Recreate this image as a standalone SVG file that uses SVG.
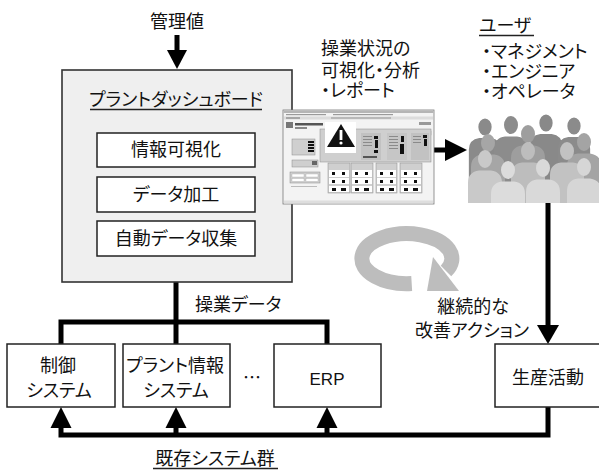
<svg xmlns="http://www.w3.org/2000/svg" width="599" height="470" viewBox="0 0 599 470">
  <style>
    text { font-family: "Noto Sans CJK JP", "Noto Sans", sans-serif; font-size: 18px; fill: #111; font-feature-settings: "palt"; }
    .mid { text-anchor: middle; }
    .latin { font-family: "Liberation Sans", Arial, sans-serif; font-size: 17px; }
    .frame { fill: #efefef; stroke: #333; stroke-width: 1.6; }
    .box { fill: #fff; stroke: #222; stroke-width: 1.5; }
    .wire { fill: none; stroke: #000; stroke-width: 5; }
    .head { fill: #000; }
    .uline { stroke: #222; stroke-width: 1.3; }
    .panel { fill: #cfcfcf; stroke: #8a8a8a; stroke-width: 0.5; }
    .cell { fill: #fff; stroke: #999; stroke-width: 0.3; }
    .blk { fill: #111; }
    .faint { fill: #9a9a9a; }
  </style>
  <defs>
    <!-- one person silhouette, head centred at 0,0 -->
    <path id="person" d="M-7,0 a7,9 0 1,1 14,0 a7,9 0 1,1 -14,0 Z M-17,120 L-17,24 Q-17,13 -6,11.5 L6,11.5 Q17,13 17,24 L17,120 Z"/>
    <clipPath id="crowdClip"><rect x="467" y="100" width="134" height="103"/></clipPath>
  </defs>

  <!-- connectors -->
  <g id="connectors">
    <!-- target values into the dashboard -->
    <line class="wire" x1="177" y1="35" x2="177" y2="52"/>
    <polygon class="head" points="167,50 187,50 177,69"/>
    <!-- operation data from existing systems -->
    <polyline class="wire" points="61,344 61,322 327,322 327,344"/>
    <line class="wire" x1="176" y1="344" x2="176" y2="275"/>
    <polygon class="head" points="166,277 187,277 176.5,257"/>
    <!-- visualisation to screen to users -->
    <line class="wire" x1="255" y1="150" x2="285" y2="150"/>
    <line class="wire" x1="432" y1="150" x2="447" y2="150"/>
    <polygon class="head" points="445,139 445,161 467,150"/>
    <!-- users to production -->
    <line class="wire" x1="548" y1="202" x2="548" y2="328"/>
    <polygon class="head" points="537,325 559,325 548,344"/>
    <!-- feedback into existing systems -->
    <polyline class="wire" points="548,407 548,435 61,435 61,426"/>
    <line class="wire" x1="176" y1="435" x2="176" y2="426"/>
    <line class="wire" x1="327" y1="435" x2="327" y2="426"/>
    <polygon class="head" points="50.5,428 71.5,428 61,407"/>
    <polygon class="head" points="165.5,428 186.5,428 176,407"/>
    <polygon class="head" points="316.5,428 337.5,428 327,407"/>
  </g>

  <text class="mid" x="177" y="28">管理値</text>
  <text x="195" y="311">操業データ</text>

  <!-- plant dashboard -->
  <g id="dashboard">
    <rect class="frame" x="62" y="70" width="230" height="212"/>
    <text class="mid" x="176" y="106" font-size="17.5">プラントダッシュボード</text>
    <line class="uline" x1="90" y1="109.5" x2="262" y2="109.5"/>
  </g>
  <g id="visualize">
    <rect class="box" x="97" y="133" width="158" height="34"/>
    <text class="mid" x="176" y="156">情報可視化</text>
  </g>
  <g id="process">
    <rect class="box" x="97" y="177" width="158" height="35"/>
    <text class="mid" x="176" y="200.5">データ加工</text>
  </g>
  <g id="collect">
    <rect class="box" x="97" y="221" width="158" height="35"/>
    <text class="mid" x="176" y="244.5">自動データ収集</text>
  </g>

  <!-- screen capture of the dashboard -->
  <g id="screen" transform="translate(283,110)">
    <rect x="0" y="0" width="151" height="94" fill="#f3f3f3" stroke="#7a7a7a" stroke-width="0.8"/>
    <rect x="0.5" y="0.5" width="150" height="2.5" fill="#b5b5b5"/>
    <rect x="3" y="4" width="40" height="1.2" class="faint"/>
    <rect x="50" y="4" width="60" height="1.2" class="faint"/>
    <rect x="1" y="6.5" width="149" height="3" fill="#dcdcdc"/>
    <rect x="3" y="7.2" width="14" height="1.6" class="faint"/>
    <rect x="48" y="7.2" width="60" height="1.6" fill="#b0b0b0"/>
    <rect x="3" y="12" width="7" height="6" fill="#777"/>
    <rect x="12" y="13" width="28" height="2.5" fill="#555"/>
    <rect x="12" y="17" width="12" height="2" fill="#888"/>
    <rect x="136" y="12" width="12" height="3" fill="#999"/>
    <rect x="116" y="21" width="32" height="4" fill="#e8e8e8" stroke="#888" stroke-width="0.4"/>
    <!-- main status panel -->
    <rect class="panel" x="37" y="19" width="111" height="33"/>
    <rect x="78" y="23" width="20" height="27" fill="#c2c2c2"/>
    <rect x="104" y="23" width="20" height="27" fill="#c6c6c6"/>
    <rect x="128" y="23" width="18" height="27" fill="#c2c2c2"/>
    <g fill="#8a8a8a">
      <rect x="80" y="26" width="9" height="1"/><rect x="80" y="29" width="9" height="1"/><rect x="80" y="32" width="9" height="1"/><rect x="80" y="35" width="9" height="1"/>
      <rect x="106" y="26" width="9" height="1"/><rect x="106" y="29" width="9" height="1"/><rect x="106" y="32" width="9" height="1"/><rect x="106" y="35" width="9" height="1"/><rect x="106" y="38" width="9" height="1"/>
      <rect x="130" y="26" width="8" height="1"/><rect x="130" y="29" width="8" height="1"/><rect x="130" y="32" width="8" height="1"/>
    </g>
    <rect class="blk" x="91" y="26" width="4" height="3"/>
    <rect class="blk" x="92" y="30" width="3" height="8"/>
    <rect class="blk" x="91" y="40" width="4" height="3"/>
    <rect class="blk" x="118" y="26" width="3" height="6"/>
    <rect class="blk" x="117" y="34" width="4" height="10"/>
    <rect class="blk" x="140" y="25" width="4" height="3"/>
    <rect class="blk" x="141" y="29" width="3" height="7"/>
    <rect x="80" y="46" width="14" height="2" fill="#555"/>
    <!-- warning sign -->
    <rect x="42" y="12" width="31" height="31" fill="#fff"/>
    <polygon points="58,14 44,37 72,37" fill="#111"/>
    <rect x="56.6" y="20" width="2.8" height="10" fill="#fff"/>
    <circle cx="58" cy="33" r="1.6" fill="#fff"/>
    <!-- left side panels -->
    <rect class="panel" x="9" y="29" width="23" height="16"/>
    <rect class="blk" x="25" y="31" width="6" height="2"/>
    <rect class="blk" x="25" y="34" width="6" height="2"/>
    <rect class="blk" x="25" y="37" width="6" height="2"/>
    <rect class="blk" x="25" y="40" width="6" height="2"/>
    <rect class="panel" x="9" y="50" width="26" height="7"/>
    <rect x="29" y="51" width="5" height="4" fill="#666"/>
    <rect class="panel" x="7" y="62" width="30" height="11"/>
    <rect class="cell" x="9" y="64" width="12" height="3"/>
    <rect class="cell" x="23" y="64" width="12" height="3"/>
    <rect class="cell" x="9" y="68.5" width="12" height="3"/>
    <rect class="cell" x="23" y="68.5" width="12" height="3"/>
    <rect x="8" y="76" width="26" height="1" fill="#bbb"/>
    <!-- equipment panels -->
    <g id="unitPanels">
      <rect class="panel" x="45" y="53" width="22" height="30"/>
      <rect class="panel" x="68" y="53" width="22" height="30"/>
      <rect class="panel" x="93" y="53" width="21" height="30"/>
      <rect class="panel" x="117" y="53" width="22" height="30"/>
    </g>
    <g fill="#fff">
      <rect x="46" y="60" width="20" height="7"/><rect x="69" y="60" width="20" height="7"/><rect x="94" y="60" width="19" height="7"/><rect x="118" y="60" width="20" height="7"/>
      <rect x="46" y="68" width="20" height="6"/><rect x="69" y="68" width="20" height="6"/><rect x="94" y="68" width="19" height="6"/><rect x="118" y="68" width="20" height="6"/>
      <rect x="46" y="76" width="20" height="6"/><rect x="69" y="76" width="20" height="6"/><rect x="94" y="76" width="19" height="6"/><rect x="118" y="76" width="20" height="6"/>
    </g>
    <g class="blk">
      <rect x="49" y="62" width="3" height="3"/><rect x="59" y="62" width="3" height="3"/><rect x="72" y="62" width="3" height="3"/><rect x="82" y="62" width="3" height="3"/>
      <rect x="97" y="62" width="3" height="3"/><rect x="107" y="62" width="3" height="3"/><rect x="121" y="62" width="3" height="3"/><rect x="131" y="62" width="3" height="3"/>
      <rect x="49" y="70" width="3" height="3"/><rect x="59" y="70" width="3" height="3"/><rect x="72" y="70" width="3" height="3"/><rect x="82" y="70" width="3" height="3"/>
      <rect x="97" y="70" width="3" height="3"/><rect x="107" y="70" width="3" height="3"/><rect x="121" y="70" width="3" height="3"/><rect x="131" y="70" width="3" height="3"/>
      <rect x="49" y="78" width="4" height="3"/><rect x="58" y="78" width="5" height="3"/><rect x="72" y="78" width="4" height="3"/><rect x="81" y="78" width="5" height="3"/>
      <rect x="97" y="78" width="4" height="3"/><rect x="106" y="78" width="5" height="3"/><rect x="121" y="78" width="4" height="3"/><rect x="130" y="78" width="5" height="3"/>
    </g>
    <rect x="1" y="90.5" width="149" height="3" fill="#dedede"/>
  </g>

  <text x="321" y="55">操業状況の<tspan x="321" y="77">可視化・分析</tspan><tspan x="321" y="97">・レポート</tspan></text>

  <!-- users -->
  <g id="users">
    <text x="479" y="32">ユーザ</text>
    <line class="uline" x1="479" y1="35.5" x2="534" y2="35.5"/>
    <text x="482" y="58">・マネジメント<tspan x="482" y="78">・エンジニア</tspan><tspan x="482" y="98">・オペレータ</tspan></text>
    <g clip-path="url(#crowdClip)">
      <use href="#person" transform="translate(485,127) scale(0.95)" fill="#8a8a8a"/>
      <use href="#person" transform="translate(511,125)" fill="#8c8c8c"/>
      <use href="#person" transform="translate(546,123) scale(0.95)" fill="#898989"/>
      <use href="#person" transform="translate(574,126) scale(0.95)" fill="#8b8b8b"/>
      <use href="#person" transform="translate(528,134)" fill="#9e9e9e"/>
      <use href="#person" transform="translate(488,143)" fill="#a6a6a6"/>
      <use href="#person" transform="translate(584,142)" fill="#a4a4a4"/>
      <use href="#person" transform="translate(528,151)" fill="#bdbdbd"/>
      <use href="#person" transform="translate(567,151)" fill="#c2c2c2"/>
      <use href="#person" transform="translate(485,159)" fill="#c9c9c9"/>
      <use href="#person" transform="translate(508,170)" fill="#dcdcdc"/>
      <use href="#person" transform="translate(543,168)" fill="#d9d9d9"/>
      <use href="#person" transform="translate(584,167)" fill="#d6d6d6"/>
    </g>
  </g>

  <!-- continuous improvement loop -->
  <g id="loop">
    <path d="M411.7,283.5 A45,25 0 1,1 446,271" fill="none" stroke="#bdbdbd" stroke-width="15"/>
    <polygon points="433,257 459,291 427,291" fill="#bdbdbd"/>
  </g>
  <text class="mid" x="473" y="313">継続的な<tspan x="472" y="337">改善アクション</tspan></text>

  <!-- existing systems -->
  <g id="control">
    <rect class="box" x="7" y="344" width="108" height="63"/>
    <text class="mid" x="58" y="372">制御<tspan x="59" y="397">システム</tspan></text>
  </g>
  <g id="plantinfo">
    <rect class="box" x="123" y="344" width="107" height="63"/>
    <text class="mid" x="175" y="372" font-size="17.5">プラント情報<tspan x="176" y="397">システム</tspan></text>
  </g>
  <text class="mid" x="252" y="384">…</text>
  <g id="erp">
    <rect class="box" x="274" y="344" width="107" height="63"/>
    <text class="mid latin" x="327" y="385">ERP</text>
  </g>
  <g id="production">
    <rect class="box" x="495" y="344" width="108" height="63"/>
    <text class="mid" x="548" y="384">生産活動</text>
  </g>
  <text class="mid" x="215" y="465">既存システム群</text>
  <line class="uline" x1="153" y1="468.5" x2="278" y2="468.5"/>
</svg>
